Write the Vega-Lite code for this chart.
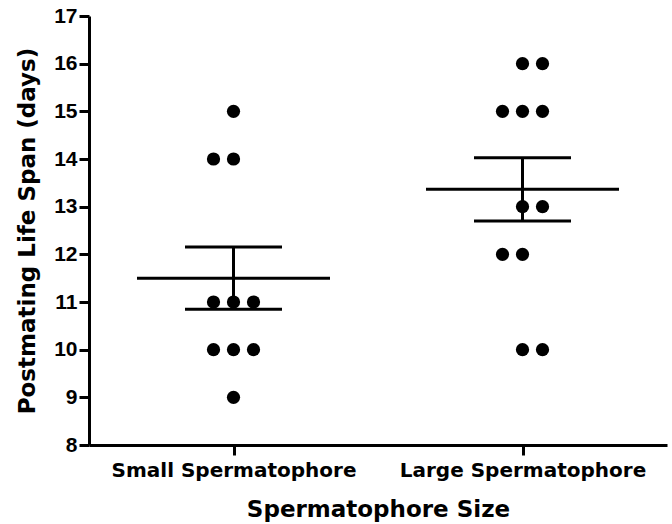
{
  "$schema": "https://vega.github.io/schema/vega-lite/v6.json",
  "autosize": {"type": "none"},
  "padding": {"left": 89, "top": 16, "right": 5, "bottom": 79},
  "width": 578,
  "height": 429,
  "background": "white",
  "data": {
    "values": [
      {"group": "Small Spermatophore", "value": 15, "slot": 0},
      {"group": "Small Spermatophore", "value": 14, "slot": -1},
      {"group": "Small Spermatophore", "value": 14, "slot": 0},
      {"group": "Small Spermatophore", "value": 11, "slot": -1},
      {"group": "Small Spermatophore", "value": 11, "slot": 0},
      {"group": "Small Spermatophore", "value": 11, "slot": 1},
      {"group": "Small Spermatophore", "value": 10, "slot": -1},
      {"group": "Small Spermatophore", "value": 10, "slot": 0},
      {"group": "Small Spermatophore", "value": 10, "slot": 1},
      {"group": "Small Spermatophore", "value": 9, "slot": 0},
      {"group": "Large Spermatophore", "value": 16, "slot": 0},
      {"group": "Large Spermatophore", "value": 16, "slot": 1},
      {"group": "Large Spermatophore", "value": 15, "slot": -1},
      {"group": "Large Spermatophore", "value": 15, "slot": 0},
      {"group": "Large Spermatophore", "value": 15, "slot": 1},
      {"group": "Large Spermatophore", "value": 13, "slot": 0},
      {"group": "Large Spermatophore", "value": 13, "slot": 1},
      {"group": "Large Spermatophore", "value": 12, "slot": -1},
      {"group": "Large Spermatophore", "value": 12, "slot": 0},
      {"group": "Large Spermatophore", "value": 10, "slot": 0},
      {"group": "Large Spermatophore", "value": 10, "slot": 1}
    ]
  },
  "config": {
    "view": {"stroke": null},
    "axis": {
      "grid": false,
      "domainColor": "black",
      "domainWidth": 3,
      "tickColor": "black",
      "tickWidth": 3,
      "tickSize": 10,
      "labelColor": "black",
      "titleColor": "black",
      "labelFontWeight": "bold",
      "titleFontWeight": "bold",
      "labelFont": "DejaVu Sans",
      "titleFont": "DejaVu Sans",
      "labelFontSize": 20,
      "titleFontSize": 23,
      "labelLimit": 400
    }
  },
  "encoding": {
    "x": {
      "field": "group",
      "type": "nominal",
      "sort": ["Small Spermatophore", "Large Spermatophore"],
      "scale": {"type": "point", "padding": 0.5},
      "axis": {"title": "Spermatophore Size", "labelAngle": 0, "labelPadding": 5, "titlePadding": 18, "domainWidth": 3, "tickWidth": 3, "labelLimit": 400}
    }
  },
  "layer": [
    {
      "mark": {"type": "point", "filled": true, "shape": "circle", "size": 175, "color": "black", "opacity": 1},
      "encoding": {
        "xOffset": {"field": "slot", "type": "quantitative", "scale": {"domain": [-1, 1], "range": [-20, 20]}},
        "y": {
          "field": "value",
          "type": "quantitative",
          "title": "Postmating Life Span (days)",
          "scale": {"domain": [8, 17], "nice": false, "zero": false},
          "axis": {
            "values": [8, 9, 10, 11, 12, 13, 14, 15, 16, 17],
            "labelFont": "Liberation Sans",
            "labelFontSize": 21,
            "labelPadding": 2,
            "titlePadding": 14,
            "domainWidth": 3,
            "tickWidth": 3
          }
        }
      }
    },
    {
      "mark": {"type": "errorbar", "extent": "stderr", "ticks": {"color": "black", "opacity": 1}, "rule": {"color": "black", "opacity": 1}, "size": 97, "thickness": 3, "color": "black"},
      "encoding": {
        "y": {"field": "value", "type": "quantitative", "title": "Postmating Life Span (days)"}
      }
    },
    {
      "mark": {"type": "tick", "size": 193, "thickness": 3, "color": "black", "opacity": 1},
      "encoding": {
        "y": {"field": "value", "type": "quantitative", "aggregate": "mean", "title": "Postmating Life Span (days)"}
      }
    }
  ]
}
